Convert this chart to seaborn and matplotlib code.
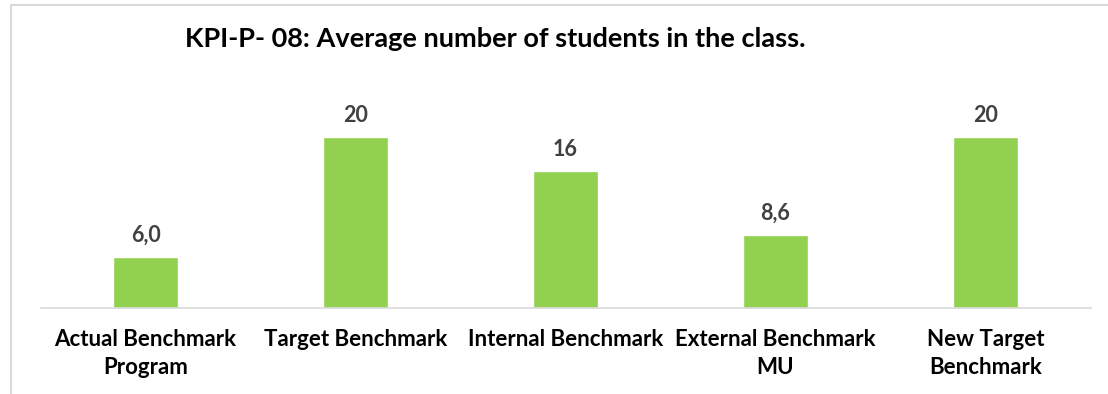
import pandas as pd
import matplotlib.pyplot as plt
import seaborn as sns
from matplotlib.patches import Rectangle

# data
categories = [
    "Actual Benchmark\nProgram",
    "Target Benchmark",
    "Internal Benchmark",
    "External Benchmark\nMU",
    "New Target\nBenchmark",
]
values = [6.0, 20, 16, 8.6, 20]
value_labels = ["6,0", "20", "16", "8,6", "20"]
title = "KPI-P- 08: Average number of students in the class."

df = pd.DataFrame({"Category": categories, "Value": values})

sns.set_theme(style="white")
plt.rcParams["font.family"] = ["Lato", "DejaVu Sans"]

fig = plt.figure(figsize=(11.08, 3.94), dpi=100)
ax = fig.add_axes([40.5 / 1108, (394 - 308) / 394, 1050 / 1108, (308 - 120) / 394])

sns.barplot(data=df, x="Category", y="Value", color="#92D050",
            width=0.31, saturation=1, ax=ax)

ax.set_ylim(0, 22)
ax.set_xlim(-0.5, len(categories) - 0.5)
ax.set_xlabel("")
ax.set_ylabel("")
ax.set_yticks([])
ax.tick_params(axis="x", length=0, pad=15)
for lbl in ax.get_xticklabels():
    lbl.set_fontsize(16)
    lbl.set_fontweight("bold")
    lbl.set_color("black")
    lbl.set_linespacing(1.4)

for s in ["top", "left", "right"]:
    ax.spines[s].set_visible(False)
ax.spines["bottom"].set_color("#D9D9D9")
ax.spines["bottom"].set_linewidth(1.2)

for i, (v, t) in enumerate(zip(values, value_labels)):
    ax.annotate(t, (i, v), xytext=(0, 8), textcoords="offset points",
                ha="center", va="bottom", fontsize=15.5,
                fontweight="bold", color="#404040")

fig.text(495 / 1108, 1 - 39 / 394, title, ha="center", va="center",
         fontsize=19.5, fontweight="bold", color="black")

# outer chart frame (cropped on the right and bottom)
fig.patches.append(Rectangle((11 / 1108, -0.2), 1.3, 1.2 - 5 / 394,
                             transform=fig.transFigure, fill=False,
                             edgecolor="#D9D9D9", linewidth=1.5))

fig.savefig("out.png", dpi=100)
